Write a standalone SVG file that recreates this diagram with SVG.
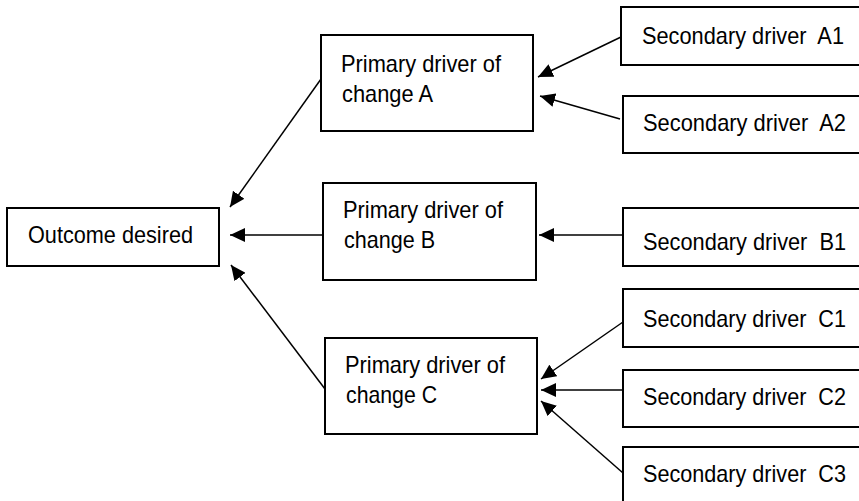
<svg xmlns="http://www.w3.org/2000/svg" width="859" height="501" viewBox="0 0 859 501" xml:space="preserve">
<style>
.box{fill:#fff;stroke:#000;stroke-width:2}
.t{font-family:"Liberation Sans",Arial,sans-serif;font-size:24px;fill:#000;white-space:pre}
.c{stroke:#000;stroke-width:1.5;fill:none;marker-end:url(#ah)}
</style>
<defs>
<marker id="ah" viewBox="0 0 15 14" refX="15" refY="7" markerWidth="15" markerHeight="14" markerUnits="userSpaceOnUse" orient="auto">
<path d="M0,0 L15,7 L0,14 z" fill="#000"/>
</marker>
</defs>
<rect width="859" height="501" fill="#fff"/>
<g id="outcome"><rect class="box" x="7" y="208" width="212" height="58"/><text class="t" x="28" y="243" textLength="165" lengthAdjust="spacingAndGlyphs">Outcome desired</text></g>
<g id="primaryA"><rect class="box" x="321" y="35" width="212" height="96"/><text class="t" x="341" y="72" textLength="160" lengthAdjust="spacingAndGlyphs">Primary driver of</text><text class="t" x="342" y="102" textLength="91" lengthAdjust="spacingAndGlyphs">change A</text></g>
<g id="primaryB"><rect class="box" x="323" y="183" width="213" height="97"/><text class="t" x="343" y="218" textLength="160" lengthAdjust="spacingAndGlyphs">Primary driver of</text><text class="t" x="344" y="248" textLength="91" lengthAdjust="spacingAndGlyphs">change B</text></g>
<g id="primaryC"><rect class="box" x="325" y="338" width="212" height="96"/><text class="t" x="345" y="373" textLength="160" lengthAdjust="spacingAndGlyphs">Primary driver of</text><text class="t" x="346" y="403" textLength="91" lengthAdjust="spacingAndGlyphs">change C</text></g>
<g id="secA1"><rect class="box" x="621" y="7" width="260" height="58"/><text class="t" x="642" y="44" textLength="202" lengthAdjust="spacingAndGlyphs">Secondary driver  A1</text></g>
<g id="secA2"><rect class="box" x="623" y="96" width="260" height="57"/><text class="t" x="643" y="131" textLength="203" lengthAdjust="spacingAndGlyphs">Secondary driver  A2</text></g>
<g id="secB1"><rect class="box" x="623" y="208" width="260" height="58"/><text class="t" x="643" y="250" textLength="203" lengthAdjust="spacingAndGlyphs">Secondary driver  B1</text></g>
<g id="secC1"><rect class="box" x="623" y="289" width="260" height="58"/><text class="t" x="643" y="327" textLength="203" lengthAdjust="spacingAndGlyphs">Secondary driver  C1</text></g>
<g id="secC2"><rect class="box" x="623" y="370" width="260" height="57"/><text class="t" x="643" y="405" textLength="203" lengthAdjust="spacingAndGlyphs">Secondary driver  C2</text></g>
<g id="secC3"><rect class="box" x="623" y="447" width="260" height="70"/><text class="t" x="643" y="482" textLength="203" lengthAdjust="spacingAndGlyphs">Secondary driver  C3</text></g>
<g id="connectors">
<line class="c" x1="321" y1="79" x2="230" y2="207"/>
<line class="c" x1="323" y1="235" x2="230" y2="235"/>
<line class="c" x1="325" y1="389" x2="231" y2="265"/>
<line class="c" x1="621" y1="37" x2="538" y2="77"/>
<line class="c" x1="620" y1="119" x2="540" y2="96"/>
<line class="c" x1="623" y1="235" x2="539" y2="235"/>
<line class="c" x1="623" y1="322" x2="541" y2="379"/>
<line class="c" x1="623" y1="390" x2="541" y2="390"/>
<line class="c" x1="623" y1="473" x2="541" y2="401"/>
</g>
</svg>
